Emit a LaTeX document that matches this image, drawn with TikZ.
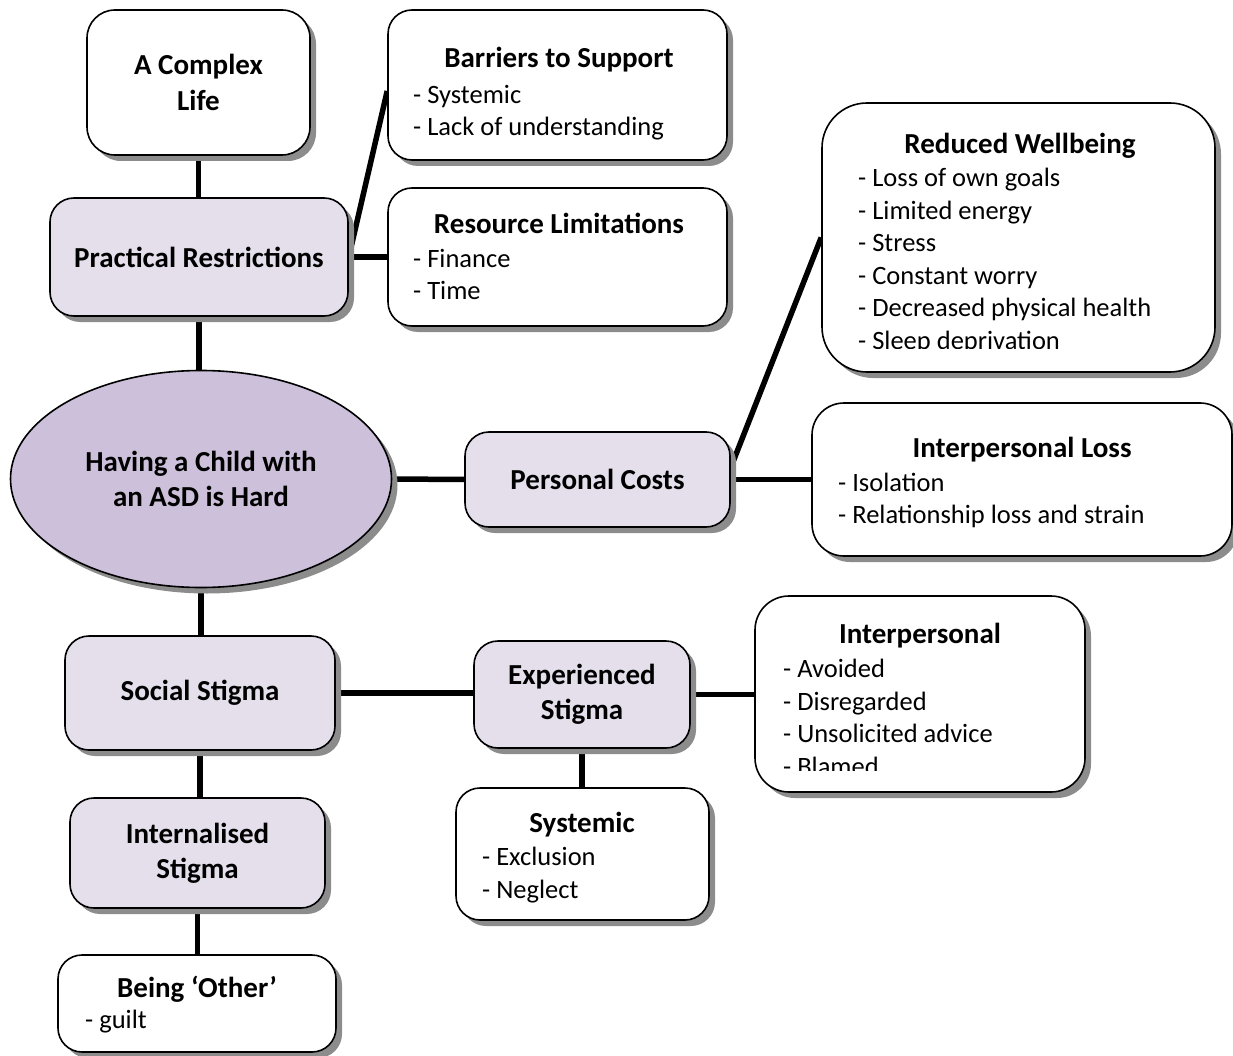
\documentclass[tikz,border=0pt]{standalone}
\usepackage{fontspec}
\setmainfont{Carlito}
\usetikzlibrary{shapes.geometric,shadows,backgrounds}
\definecolor{lilac}{HTML}{E5DFEC}
\definecolor{mauve}{HTML}{CCC0DA}
\definecolor{shade}{HTML}{8C8C8C}

\begin{document}
\begin{tikzpicture}[x=1pt,y=-1pt,
 box/.style={draw,line width=1.6pt,rounded corners=24pt,fill=white,inner sep=0pt,align=center,
  drop shadow={shadow xshift=6pt,shadow yshift=-6pt,fill=shade,opacity=1},
  font=\fontsize{29}{35.4}\selectfont\bfseries},
 topic/.style={box,fill=lilac},
 hub/.style={box,ellipse,fill=mauve},
 head/.style={anchor=base,inner sep=0pt,font=\fontsize{29}{35.4}\selectfont\bfseries},
 items/.style={anchor=base west,inner sep=0pt,align=left,font=\fontsize{26.5}{32.5}\selectfont},
 link/.style={line width=5.5pt}]
\useasboundingbox (0,0) rectangle (1233,1056);

% left column
\node[box,minimum width=223pt,minimum height=145pt,rounded corners=28pt] (complex) at (198.5,82.5) {A Complex\\Life};
\node[topic,minimum width=298pt,minimum height=118pt] (practical) at (199,257) {Practical Restrictions};
\node[hub,minimum width=381pt,minimum height=217pt] (hub) at (201,479) {Having a Child with\\an ASD is Hard};
\node[topic,minimum width=270pt,minimum height=114pt] (social) at (200,693) {Social Stigma};
\node[topic,minimum width=255pt,minimum height=110pt] (internal) at (197.5,853) {Internalised\\Stigma};
\node[box,minimum width=278pt,minimum height=97pt] (other) at (197,1003.5) {};
\node[head] (other-t) at (197,997) {Being ‘Other’};
\node[items] (other-i) at (85,1028.5) {- guilt};

% practical restrictions (items: base = last line)
\node[box,minimum width=339pt,minimum height=150pt] (barriers) at (557.5,85) {};
\node[head] (barriers-t) at (559,68) {Barriers to Support};
\node[items] (barriers-i) at (413,136) {- Systemic\\- Lack of understanding};
\node[box,minimum width=339pt,minimum height=138pt] (resource) at (557.5,257) {};
\node[head] (resource-t) at (559,234) {Resource Limitations};
\node[items] (resource-i) at (413,300) {- Finance\\- Time};

% personal costs
\node[topic,minimum width=265pt,minimum height=95pt] (personal) at (597.5,479.5) {Personal Costs};
\node[box,minimum width=393pt,minimum height=269pt,rounded corners=45pt] (wellbeing) at (1018.5,237.5) {};
\node[head] (wellbeing-t) at (1020,154) {Reduced Wellbeing};
\begin{scope}
\clip (wellbeing.north west) rectangle ([yshift=24pt]wellbeing.south east);
\node[items] (wellbeing-i) at (858,349) {- Loss of own goals\\- Limited energy\\- Stress\\- Constant worry\\- Decreased physical health\\- Sleep deprivation};
\end{scope}
\node[box,minimum width=420pt,minimum height=153pt,rounded corners=32pt] (interloss) at (1022,479.5) {};
\node[head] (interloss-t) at (1022,457) {Interpersonal Loss};
\node[items] (interloss-i) at (838,523.5) {- Isolation\\- Relationship loss and strain};

% social stigma
\node[topic,minimum width=216pt,minimum height=107pt] (experienced) at (582,694.5) {Experienced\\Stigma};
\node[box,minimum width=330pt,minimum height=196pt,rounded corners=34pt] (interpersonal) at (920,694) {};
\node[head] (interpersonal-t) at (920,643) {Interpersonal};
\begin{scope}
\clip (interpersonal.north west) rectangle ([yshift=22pt]interpersonal.south east);
\node[items] (interpersonal-i) at (783,775) {- Avoided\\- Disregarded\\- Unsolicited advice\\- Blamed};
\end{scope}
\node[box,minimum width=253pt,minimum height=132pt] (systemic) at (582.5,854) {};
\node[head] (systemic-t) at (582,832) {Systemic};
\node[items] (systemic-i) at (482,898) {- Exclusion\\- Neglect};

\begin{scope}[on background layer]
\draw[link] (complex.south) -- (complex.south |- practical.north);
\draw[link] (practical.south) -- (practical.south |- hub.north);
\draw[link] (practical.east) -- (resource.west);
\draw[link] (practical.east) -- ([yshift=-6pt]barriers.west);
\draw[link] (hub.east) -- (personal.west);
\draw[link] (personal.east) -- (interloss.west);
\draw[link] ([yshift=12pt]personal.east) -- (wellbeing.west);
\draw[link] (hub.south) -- (hub.south |- social.north);
\draw[link] (social.east) -- (social.east -| experienced.west);
\draw[link] (experienced.east) -- (experienced.east -| interpersonal.west);
\draw[link] (experienced.south) -- (experienced.south |- systemic.north);
\draw[link] (social.south) -- (social.south |- internal.north);
\draw[link] (internal.south) -- (internal.south |- other.north);
\end{scope}
\end{tikzpicture}
\end{document}
